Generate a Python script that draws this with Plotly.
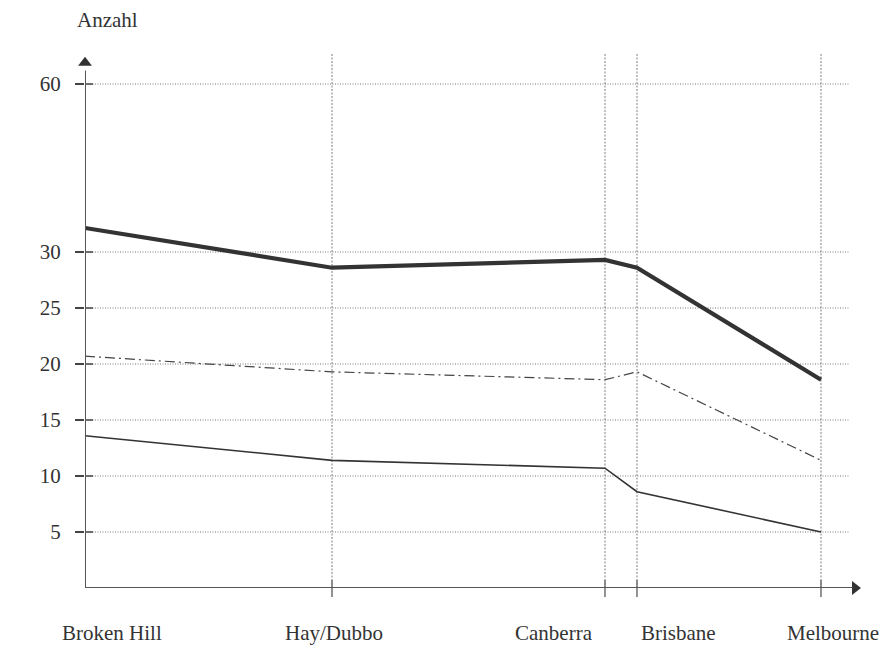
import plotly.graph_objects as go

# ---- data ----
cities = ["Broken Hill", "Hay/Dubbo", "Canberra", "Brisbane", "Melbourne"]
positions = [0, 247, 520, 552, 736]          # relative distance along the route
series_thick = [34.3, 28.6, 29.3, 28.6, 18.6]
series_dashdot = [20.7, 19.3, 18.6, 19.3, 11.4]
series_thin = [13.6, 11.4, 10.7, 8.6, 5.0]
y_ticks = [5, 10, 15, 20, 25, 30, 60]
y_title = "Anzahl"

BREAK = 30
COMPRESS = 0.5


def to_axis(v):
    """broken y scale: linear up to 30, compressed above"""
    return v if v <= BREAK else BREAK + (v - BREAK) * COMPRESS


FONT = "Liberation Serif, Times New Roman, serif"
TXT = "#333333"
# page body has an 8px margin, so figure is 8px smaller and margins reduced
W, H = 884, 638
ML, MR, MT, MB = 77, 32, 42, 58
PH = H - MT - MB
X_MAX = 775
Y_MAX = 48.04

fig = go.Figure()

styles = [
    (series_thick, dict(color="#333333", width=4.2)),
    (series_dashdot, dict(color="#444444", width=1.2, dash="10px,4px,2px,4px")),
    (series_thin, dict(color="#333333", width=1.6)),
]
for vals, ln in styles:
    fig.add_trace(go.Scatter(x=positions, y=[to_axis(v) for v in vals],
                             mode="lines", line=ln, showlegend=False,
                             hoverinfo="skip"))

shapes = []
# horizontal dotted gridlines
for t in y_ticks:
    shapes.append(dict(type="line", xref="x", yref="y", x0=0, x1=X_MAX * 0.985,
                       y0=to_axis(t), y1=to_axis(t),
                       line=dict(color="#777777", width=1, dash="1px,1.5px"), layer="below"))
    # tick part to the right of axis
    shapes.append(dict(type="line", xref="paper", yref="y", x0=0, x1=8 / X_MAX,
                       y0=to_axis(t), y1=to_axis(t),
                       line=dict(color="#444444", width=1.5)))
# vertical dotted gridlines + ticks
for p in positions[1:]:
    shapes.append(dict(type="line", xref="x", yref="paper", x0=p, x1=p,
                       y0=0, y1=0.995,
                       line=dict(color="#b0b0b0", width=1.6, dash="2px,1.5px"), layer="below"))
    shapes.append(dict(type="line", xref="x", yref="paper", x0=p, x1=p,
                       y0=-9 / PH, y1=8 / PH,
                       line=dict(color="#777777", width=1.6)))
# axis lines
shapes.append(dict(type="line", xref="x", yref="y", x0=0, x1=0, y0=0, y1=46.2,
                   line=dict(color="#555555", width=2)))
shapes.append(dict(type="line", xref="x", yref="y", x0=0, x1=768, y0=0, y1=0,
                   line=dict(color="#555555", width=2)))

# arrowheads
fig.add_trace(go.Scatter(x=[0], y=[46.9], mode="markers",
                         marker=dict(symbol="triangle-up", size=12, color="#333333"),
                         cliponaxis=False, showlegend=False, hoverinfo="skip"))
fig.add_trace(go.Scatter(x=[770], y=[0], mode="markers",
                         marker=dict(symbol="triangle-right", size=12, color="#333333"),
                         cliponaxis=False, showlegend=False, hoverinfo="skip"))

annotations = []
label_cfg = [("center", 27), ("center", 2), ("right", -10), ("left", 2), ("center", 12)]
for name, p, (anc, sh) in zip(cities, positions, label_cfg):
    annotations.append(dict(x=p, y=-45 / PH, xref="x", yref="paper",
                            text=name, showarrow=False, xanchor=anc, xshift=sh,
                            yanchor="middle", font=dict(family=FONT, size=21, color=TXT)))
annotations.append(dict(x=-10 / X_MAX, y=1 + 30 / PH, xref="paper", yref="paper",
                        text=y_title, showarrow=False, xanchor="left", yanchor="middle",
                        font=dict(family=FONT, size=21, color=TXT)))

fig.update_layout(
    width=W, height=H,
    margin=dict(l=ML, r=MR, t=MT, b=MB),
    paper_bgcolor="white", plot_bgcolor="white",
    shapes=shapes, annotations=annotations,
    xaxis=dict(range=[0, X_MAX], showgrid=False, zeroline=False,
               showticklabels=False, showline=False, ticks=""),
    yaxis=dict(range=[0, Y_MAX], showgrid=False, zeroline=False, showline=False,
               tickvals=[to_axis(t) for t in y_ticks], ticktext=[str(t) for t in y_ticks],
               ticks="outside", ticklen=9, tickwidth=1.5, tickcolor="#444444",
               ticklabelstandoff=10,
               tickfont=dict(family=FONT, size=21, color=TXT)),
    font=dict(family=FONT),
)

fig.write_html("out.html")
